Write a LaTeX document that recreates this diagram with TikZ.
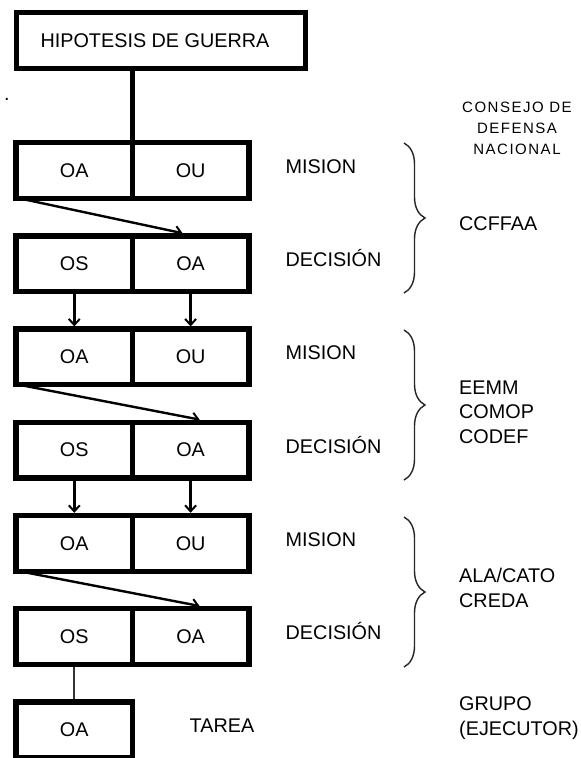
\documentclass[tikz,border=0pt]{standalone}
\usepackage{fontspec}
\setmainfont{Liberation Sans}
\usetikzlibrary{arrows.meta, positioning, calc, decorations.pathreplacing}

\begin{document}
\begin{tikzpicture}[x=1pt, y=-1pt,
    cell/.style={rectangle, draw, line width=5.3pt, minimum width=116.5pt,
                 minimum height=55.7pt, inner sep=0pt, font=\fontsize{19.8}{22}\selectfont},
    lbl/.style={inner sep=0pt, anchor=base west, align=left,
                font=\fontsize{19.8}{24.5}\selectfont},
    trunk/.style={line width=5.3pt},
    flow/.style={line width=2.4pt, -{Straight Barb[length=6pt, width=11pt, line width=2pt]}},
    grp/.style={decorate, decoration={brace, amplitude=21pt}, line width=1.4pt, black!85}
]
    \useasboundingbox (0,0) rectangle (581,758);
    \node[cell, minimum width=288.7pt] (hip) at (161,40.5) {HIPOTESIS DE GUERRA\hspace*{12pt}};
    \node[inner sep=0pt, anchor=base, font=\fontsize{19.8}{24}\selectfont] (pt) at (7,100) {.};

    \foreach \i/\l/\r in {1/OA/OU, 2/OS/OA, 3/OA/OU, 4/OS/OA, 5/OA/OU, 6/OS/OA} {
        \node[cell] (a\i) at (74.3, {170.5+93.2*(\i-1)}) {\l};
        \node[cell] (b\i) at (190.6, {170.5+93.2*(\i-1)}) {\r};
    }
    \node[cell] (tar) at (74.3, 729.7) {OA};

    \coordinate (d1) at ($(a1.north east)!0.5!(b1.north west)$);
    \draw[trunk] (d1) -- (d1 |- hip.south);

    \draw[flow] ($(a1.south west)+(9,-2)$) -- ($(b2.north)+(-8,0)$);
    \draw[flow] ($(a3.south west)+(9,-2)$) -- ($(b4.north)+(9,0)$);
    \draw[flow] ($(a5.south west)+(9,-2)$) -- ($(b6.north)+(9,0)$);
    \draw[flow] (a2.south) -- (a3.north);
    \draw[flow] (b2.south) -- (b3.north);
    \draw[flow] (a4.south) -- (a5.north);
    \draw[flow] (b4.south) -- (b5.north);
    \draw[line width=2pt, black!80] (a6.south) -- (tar.north);

    \node[lbl] (m1) at (285.5, 173.5) {MISION};
    \node[lbl] (d2) at (285.5, 266.7) {DECISIÓN};
    \node[lbl] (m3) at (285.5, 359.9) {MISION};
    \node[lbl] (d4) at (285.5, 453.1) {DECISIÓN};
    \node[lbl] (m5) at (285.5, 546.3) {MISION};
    \node[lbl] (d6) at (285.5, 639.5) {DECISIÓN};
    \node[lbl] (tarea) at (189.5, 732.5) {TAREA};

    \draw[grp] (404,143) -- (404,293);
    \draw[grp] (404,330) -- (404,480);
    \draw[grp] (404,517) -- (404,667);

    \node[inner sep=0pt, anchor=base, align=center,
          font=\fontsize{15}{21}\selectfont\addfontfeature{LetterSpace=10}] (cdn) at (517,154.5)
          {CONSEJO DE\\DEFENSA\\NACIONAL};
    \node[lbl] (cc) at (459, 230.3) {CCFFAA};
    \node[lbl] (ee) at (459, 443) {EEMM\\COMOP\\CODEF};
    \node[lbl] (al) at (459, 607) {ALA/CATO\\CREDA};
    \node[lbl] (gr) at (459, 735) {GRUPO\\(EJECUTOR)};
\end{tikzpicture}
\end{document}
